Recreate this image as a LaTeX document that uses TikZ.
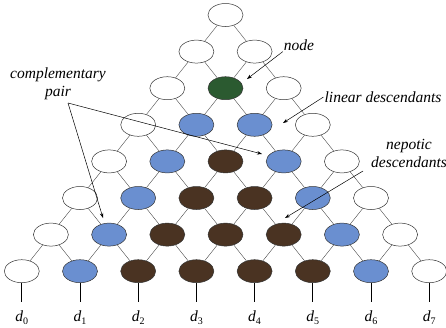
\documentclass[tikz,border=0pt]{standalone}
\usepackage{fontspec}
\setmainfont{Liberation Serif}
\usetikzlibrary{shapes.geometric,arrows.meta}
\definecolor{blueN}{HTML}{6A8FD0}
\definecolor{brownN}{HTML}{4A3322}
\definecolor{greenN}{HTML}{2B5A30}
\begin{document}
\begin{tikzpicture}[x=1pt,y=-1pt,
 nd/.style={ellipse,draw=black!80,line width=0.5pt,minimum width=35pt,minimum height=23pt,inner sep=0pt},
 wn/.style={nd,fill=white}, bn/.style={nd,fill=blueN}, rn/.style={nd,fill=brownN}, gn/.style={nd,fill=greenN},
 edgeln/.style={draw=black!70,line width=0.4pt},
 ann/.style={font=\fontsize{15.5}{18}\selectfont\itshape,align=center,inner sep=1pt},
 arr/.style={draw=black,line width=0.5pt,-{Stealth[length=5pt,width=3.5pt]}},
 ln/.style={draw=black,line width=0.5pt},
 stem/.style={draw=black,line width=1pt},
 lab/.style={font=\fontsize{15.5}{18}\selectfont,inner sep=0pt}]
\useasboundingbox (0,0) rectangle (446,327);
% nodes
\foreach \r in {0,...,7}{
  \foreach \k in {0,...,\r}{
    \pgfmathtruncatemacro\rprev{\r-1}
    \def\nstyle{rn}
    \ifnum\k=1 \def\nstyle{bn}\fi
    \ifnum\k=\rprev \def\nstyle{bn}\fi
    \ifnum\k=0 \def\nstyle{wn}\fi
    \ifnum\k=\r \def\nstyle{wn}\fi
    \ifnum\r=2 \ifnum\k=1 \def\nstyle{gn}\fi\fi
    \node[\nstyle] (n-\r-\k) at ({225.5+(\k-\r/2)*58.2},{15+\r*36.6}) {};
  }
}
% edges
\foreach \r in {0,...,6}{
  \pgfmathtruncatemacro\rnext{\r+1}
  \foreach \k in {0,...,\r}{
    \pgfmathtruncatemacro\knext{\k+1}
    \draw[edgeln] (n-\r-\k) -- (n-\rnext-\k);
    \draw[edgeln] (n-\r-\k) -- (n-\rnext-\knext);
  }
}
% stems and labels
\foreach \k in {0,...,7}{
  \coordinate (s-\k) at ({225.5+(\k-3.5)*58.2},302);
  \draw[stem] (n-7-\k) -- (s-\k);
  \node[lab] (d-\k) at ({225.5+(\k-3.5)*58.2},318) {\textit{d}\raisebox{-0.45ex}{\fontsize{10}{10}\selectfont\k}};
}
% annotations
\node[ann] (t-node) at (299,45) {node};
\coordinate (h-node) at (247,79);
\draw[arr] (t-node.south west) -- (h-node);

\node[ann] (t-lin) at (383,97) {linear descendants};
\coordinate (h-lin) at (283,123);
\draw[arr] (t-lin.west) -- (h-lin);

\node[ann] (t-nep) at (409,153) {nepotic\\descendants};
\coordinate (o-nep) at (363,171);
\coordinate (h-nep) at (285,218);
\draw[arr] (o-nep) -- (h-nep);

\node[ann] (t-cp) at (58,84) {complementary\\pair};
\coordinate (cp) at (68,103);
\coordinate (h-cp1) at (262,154);
\coordinate (h-cp2) at (103,218);
\draw[arr] (cp) -- (h-cp1);
\draw[arr] (cp) -- (h-cp2);
\end{tikzpicture}
\end{document}
